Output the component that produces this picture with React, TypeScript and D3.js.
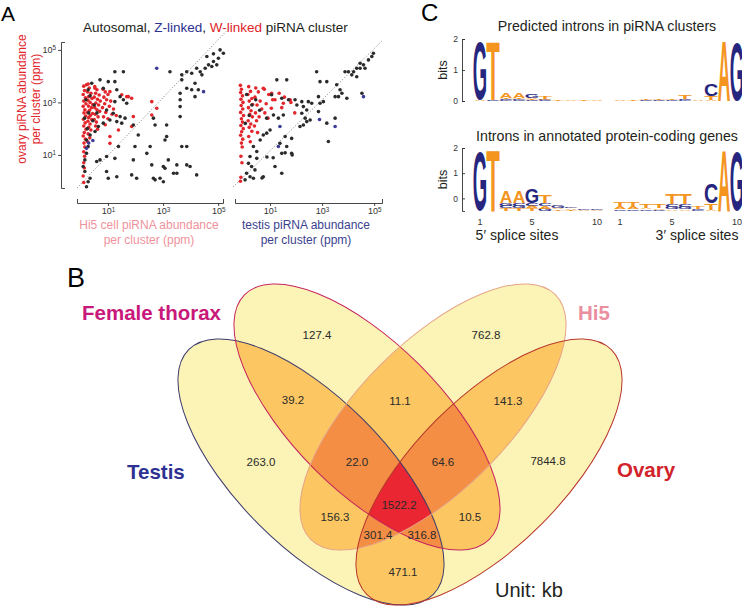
import React, { useEffect, useRef } from 'react';
import * as d3 from 'd3';

const FONT = "'Liberation Sans', Arial, Helvetica, sans-serif";
const WIDTH = 742;
const HEIGHT = 608;

// ---------- Panel A: log10 piRNA abundance per cluster (ppm), [x sample, ovary] ----------
const hi5Autosomal: [number, number][] = [
  [5.01, 4.68], [4.83, 4.56], [4.65, 4.43], [4.59, 4.75], [4.95, 4.43], [4.35, 4.17], [4.22, 4.3], [4.04, 4.11],
  [3.86, 4.17], [3.68, 4.05], [4.53, 4.3], [4.41, 4.05], [4.77, 4.37], [5.19, 4.87], [5.07, 5.0], [4.83, 4.85],
  [3.25, 4.17], [3.68, 3.86], [4.04, 3.48], [4.16, 3.22], [3.62, 3.35], [3.62, 3.1], [3.62, 2.84], [3.62, 2.46],
  [3.86, 3.54], [4.16, 3.73], [4.28, 3.48], [1.56, 4.17], [1.25, 4.17], [1.25, 3.79], [1.01, 3.79], [0.71, 3.86],
  [0.41, 3.73], [0.28, 3.48], [0.83, 3.54], [1.32, 3.48], [1.44, 3.22], [1.56, 3.1], [1.68, 2.97], [1.25, 3.03],
  [0.95, 2.71], [1.19, 2.59], [1.44, 2.46], [1.62, 2.4], [1.5, 2.21], [1.32, 2.27], [1.07, 2.33], [0.83, 2.21],
  [0.65, 2.08], [0.53, 1.89], [0.35, 1.76], [0.22, 1.57], [0.28, 1.32], [0.22, 1.06], [0.16, 0.81], [0.1, 0.56],
  [0.16, 0.37], [0.35, 0.11], [0.22, -0.21], [0.28, -0.02], [1.92, 2.14], [2.1, 1.76], [1.98, 1.32], [2.65, 2.4],
  [3.13, 2.14], [2.71, 2.14], [3.13, 1.7], [3.07, 1.57], [3.68, 1.32], [3.86, 1.32], [2.53, 1.32], [2.41, 1.06],
  [1.92, 0.81], [1.38, 1.32], [0.95, 0.94], [0.71, 0.81], [0.59, 0.75], [1.25, 0.87], [0.95, 0.37], [1.01, 0.11],
  [1.32, 0.17], [1.86, 0.24], [2.04, 0.11], [2.65, 0.11], [2.71, 0.05], [2.89, 0.11], [3.01, -0.02], [3.38, 0.3],
  [3.5, 0.3], [3.01, 0.56], [3.07, 0.49], [2.59, 0.62], [3.86, 0.62], [3.98, 0.56], [4.22, 0.24], [3.19, 0.81],
  [3.5, 0.62], [0.35, 3.25], [0.5, 2.9], [0.3, 2.6], [0.45, 2.3], [0.25, 2.0], [0.6, 2.6], [0.2, 3.1], [0.15, 2.4],
];
const hi5ZLinked: [number, number][] = [
  [2.77, 4.3], [4.47, 3.41], [0.3, 1.45], [0.22, 1.25], [0.45, 1.55],
];
const hi5WLinked: [number, number][] = [
  [0.12, 3.62], [0.15, 3.45], [0.1, 3.3], [0.18, 3.18], [0.12, 3.05], [0.2, 2.95], [0.1, 2.85], [0.16, 2.72],
  [0.13, 2.6], [0.19, 2.48], [0.11, 2.36], [0.17, 2.22], [0.12, 2.1], [0.2, 1.98], [0.14, 1.85], [0.1, 1.72],
  [0.18, 1.6], [0.13, 1.45], [0.16, 1.3], [0.12, 1.12], [0.15, 0.95], [0.12, 0.7], [0.14, 0.5], [0.1, 0.2],
  [0.12, -0.05], [0.28, 3.7], [0.32, 3.55], [0.26, 3.4], [0.38, 3.35], [0.3, 3.22], [0.42, 3.15], [0.27, 3.08],
  [0.35, 3.0], [0.45, 2.92], [0.29, 2.86], [0.4, 2.8], [0.33, 2.7], [0.26, 2.62], [0.44, 2.58], [0.36, 2.5],
  [0.3, 2.42], [0.41, 2.35], [0.27, 2.28], [0.35, 2.18], [0.3, 2.05], [0.38, 1.95], [0.28, 1.8], [0.34, 1.65],
  [0.26, 1.5], [0.52, 3.6], [0.6, 3.48], [0.55, 3.35], [0.68, 3.28], [0.5, 3.2], [0.62, 3.12], [0.72, 3.05],
  [0.56, 2.98], [0.66, 2.9], [0.52, 2.8], [0.6, 2.72], [0.7, 2.66], [0.54, 2.55], [0.64, 2.45], [0.5, 2.35],
  [0.58, 2.25], [0.55, 2.1], [0.62, 1.98], [0.82, 3.5], [0.9, 3.4], [1.0, 3.3], [0.85, 3.2], [0.95, 3.1],
  [1.1, 3.05], [0.88, 2.95], [1.05, 2.85], [0.8, 2.8], [1.2, 2.75], [0.92, 2.62], [1.15, 2.55], [0.84, 2.45],
  [1.0, 2.38], [1.3, 2.5], [0.9, 2.15], [1.68, 3.22], [1.86, 3.16], [2.59, 3.03], [2.77, 2.78], [2.59, 2.52],
  [1.92, 2.46], [1.86, 2.08], [1.38, 1.95], [1.07, 1.7], [1.07, 1.44], [0.22, 3.67], [0.53, 3.54], [1.07, 3.41],
  [1.5, 3.29], [1.74, 3.22],
];
const testisAutosomal: [number, number][] = [
  [4.97, 4.87], [4.91, 4.75], [4.78, 4.62], [4.59, 4.43], [4.46, 4.3], [4.33, 4.3], [4.21, 4.17], [4.14, 4.05],
  [4.01, 4.17], [3.88, 4.17], [4.46, 4.49], [4.65, 4.3], [4.33, 3.98], [2.79, 4.17], [2.92, 3.79], [3.18, 3.79],
  [3.56, 3.67], [3.69, 3.48], [3.76, 3.35], [3.5, 3.22], [3.95, 3.16], [4.53, 3.35], [3.63, 3.22], [2.86, 3.22],
  [3.05, 3.03], [2.92, 2.97], [2.6, 2.97], [2.86, 2.65], [3.18, 2.21], [3.5, 2.4], [3.24, 1.51], [1.26, 3.86],
  [1.64, 3.86], [1.06, 3.29], [1.45, 3.16], [1.71, 3.1], [1.96, 3.1], [2.22, 3.03], [2.47, 3.03], [2.03, 2.9],
  [2.28, 2.84], [2.41, 2.71], [2.22, 2.59], [2.35, 2.4], [2.41, 2.27], [2.54, 2.33], [2.28, 2.14], [2.15, 2.08],
  [1.51, 2.52], [1.32, 2.4], [1.13, 2.52], [0.87, 2.4], [1.0, 1.95], [0.87, 1.83], [1.58, 1.7], [1.83, 1.63],
  [1.38, 1.44], [1.64, 1.32], [1.45, 1.06], [1.83, 1.06], [0.74, 1.76], [0.62, 1.57], [0.36, 1.32], [0.49, 1.13],
  [0.23, 0.94], [0.49, 0.87], [0.17, 0.68], [0.29, 0.56], [0.42, 0.43], [0.1, 0.3], [0.23, 0.17], [0.36, 0.11],
  [0.74, 0.17], [1.19, 0.56], [1.45, 0.3], [0.04, 0.05], [0.69, 0.12], [0.88, 0.92], [1.12, 0.89], [1.58, 1.08],
  [1.85, 1.0], [0.1, 3.3], [0.3, 2.9], [0.2, 2.5], [0.45, 3.1], [0.05, 2.2], [0.6, 2.7],
];
const testisZLinked: [number, number][] = [
  [4.59, 3.22], [1.32, 1.32], [1.38, 2.08], [2.9, 2.35], [3.5, 2.08],
];
const testisWLinked: [number, number][] = [
  [-0.14, 3.65], [-0.1, 3.5], [-0.13, 3.38], [-0.06, 3.25], [-0.12, 3.12], [-0.04, 3.0], [-0.11, 2.88],
  [-0.05, 2.75], [-0.13, 2.62], [-0.02, 2.5], [-0.1, 2.38], [-0.06, 2.25], [-0.12, 2.12], [-0.03, 2.0],
  [-0.09, 1.88], [-0.13, 1.75], [-0.05, 1.6], [-0.1, 1.45], [-0.07, 1.3], [-0.12, 0.95], [-0.08, 0.7],
  [-0.12, 0.15], [-0.14, 0.0], [0.18, 3.6], [0.25, 3.42], [0.15, 3.3], [0.3, 3.15], [0.2, 3.05], [0.33, 2.92],
  [0.17, 2.8], [0.27, 2.68], [0.22, 2.55], [0.32, 2.45], [0.16, 2.3], [0.26, 2.18], [0.2, 2.05], [0.3, 1.9],
  [0.18, 1.7], [0.24, 1.5], [0.45, 3.55], [0.55, 3.4], [0.42, 3.2], [0.62, 3.05], [0.5, 2.9], [0.68, 2.75],
  [0.44, 2.6], [0.58, 2.45], [0.48, 2.3], [0.4, 2.1], [0.52, 1.85], [0.78, 3.5], [0.95, 3.3], [1.1, 3.1],
  [0.85, 2.95], [1.05, 2.78], [0.8, 2.6], [0.92, 2.4], [1.35, 3.35], [1.55, 3.2], [1.8, 3.0], [1.45, 2.8],
  [1.95, 2.6], [0.74, 3.54], [1.06, 3.35], [1.19, 3.1], [1.51, 2.97], [1.77, 3.1],
];
const abundanceTicks = [1e1, 1e3, 1e5];
// dotted reference lines, in ppm
const hi5Diagonal: [number, number][] = [[0.75, 0.55], [2.8e5, 7.6e5]];
const testisDiagonal: [number, number][] = [[0.38, 0.6], [2.2e5, 2.4e5]];

// ---------- Panel C: letter stacks per position, bottom to top, in bits ----------
type Stack = [string, number][];
const clusterFivePrime: Stack[] = [
  [['A', 0.02], ['G', 1.93]],
  [['C', 0.02], ['T', 1.93]],
  [['G', 0.03], ['C', 0.03], ['T', 0.04], ['A', 0.18]],
  [['C', 0.03], ['G', 0.03], ['T', 0.04], ['A', 0.17]],
  [['C', 0.03], ['T', 0.03], ['A', 0.05], ['G', 0.13]],
  [['C', 0.02], ['G', 0.02], ['A', 0.03], ['T', 0.06]],
  [['T', 0.02]], [['A', 0.02]], [['T', 0.02]], [['A', 0.02]],
];
const clusterThreePrime: Stack[] = [
  [['A', 0.02]], [['T', 0.02]],
  [['C', 0.02], ['T', 0.03]],
  [['C', 0.02], ['T', 0.03]],
  [['C', 0.02], ['T', 0.04]],
  [['G', 0.03], ['C', 0.04], ['T', 0.12]],
  [['A', 0.02]],
  [['A', 0.03], ['T', 0.12], ['C', 0.4]],
  [['A', 1.95]],
  [['G', 1.95]],
];
// annotated genes logo (read on its own axis, which starts at -0.5)
const geneFivePrime: Stack[] = [
  [['G', 2.45]],
  [['T', 2.45]],
  [['T', 0.1], ['C', 0.1], ['G', 0.12], ['A', 0.48]],
  [['T', 0.1], ['G', 0.1], ['C', 0.12], ['A', 0.48]],
  [['T', 0.1], ['A', 0.1], ['C', 0.12], ['G', 0.58]],
  [['G', 0.08], ['A', 0.1], ['C', 0.12], ['T', 0.32]],
  [['T', 0.06], ['A', 0.06], ['G', 0.08]],
  [['T', 0.05], ['A', 0.05], ['G', 0.06]],
  [['A', 0.05], ['G', 0.06]],
  [['A', 0.05], ['G', 0.05]],
];
const geneThreePrime: Stack[] = [
  [['C', 0.06], ['A', 0.08], ['T', 0.22]],
  [['C', 0.06], ['A', 0.08], ['T', 0.22]],
  [['C', 0.06], ['A', 0.06], ['T', 0.16]],
  [['C', 0.05], ['A', 0.06], ['T', 0.14]],
  [['A', 0.06], ['G', 0.08], ['C', 0.12], ['T', 0.42]],
  [['A', 0.06], ['G', 0.08], ['C', 0.12], ['T', 0.42]],
  [['G', 0.04], ['C', 0.05], ['T', 0.08]],
  [['A', 0.05], ['T', 0.25], ['C', 0.8]],
  [['A', 2.45]],
  [['G', 2.45]],
];
const bitTicks = [0, 1, 2];
const positionTicks = [1, 5, 10];

// ---------- Panel B: overlap sizes (kb) ----------
const vennSets = ['Testis', 'Female thorax', 'Hi5', 'Ovary'];
const vennRegionKeys = ['F', 'H', 'T', 'O', 'TF', 'HO', 'FH', 'TFH', 'FHO', 'TFHO', 'TH', 'FO', 'THO', 'TFO', 'TO'];
const vennRegionValues = [127.4, 762.8, 263.0, 7844.8, 39.2, 141.3, 11.1, 22.0, 64.6, 1522.2, 156.3, 10.5, 301.4, 316.8, 471.1];

// layout for panel B
const vennShapes = [
  { key: 'T', cx: 311, cy: 472, angle: 45, stroke: '#3e3c6c', label: '#2e3192', lx: 127, ly: 479 },
  { key: 'F', cx: 367, cy: 417, angle: 45, stroke: '#c6245f', label: '#c8197a', lx: 82, ly: 320 },
  { key: 'H', cx: 433, cy: 417, angle: -45, stroke: '#e6a487', label: '#ea8ea0', lx: 578, ly: 320 },
  { key: 'O', cx: 489, cy: 472, angle: -45, stroke: '#b8352c', label: '#d2232a', lx: 617, ly: 477 },
];
const vennLabelAt: Record<string, [number, number]> = {
  F: [317, 335], H: [486, 335], T: [261, 462], O: [548, 461], TF: [293, 400], HO: [508, 401], FH: [400, 401],
  TFH: [357, 462], FHO: [443, 462], TFHO: [399, 505], TH: [335, 517], FO: [470, 517], THO: [378, 535],
  TFO: [422, 535], TO: [403, 572],
};
const vennFill = ['#fbf4b6', '#fcc762', '#f38e44', '#ea2632'];

const LETTER_COLOR: Record<string, string> = { A: '#f3951f', T: '#f3951f', C: '#26267e', G: '#26267e' };
const INK: Record<string, { w: number; top: number; bottom: number }> = {
  A: { w: 0.72, top: 0.716, bottom: 0 },
  T: { w: 0.57, top: 0.716, bottom: 0 },
  C: { w: 0.64, top: 0.728, bottom: -0.012 },
  G: { w: 0.68, top: 0.728, bottom: -0.012 },
};

type Sel = d3.Selection<any, any, any, any>;

const powerLabels = (g: Sel) => {
  g.selectAll('.tick text').each(function (d: any) {
    const t = d3.select(this as SVGTextElement);
    t.text(null);
    t.append('tspan').text('10');
    t.append('tspan').attr('dy', '-0.45em').attr('font-size', '0.7em').text(Math.round(Math.log10(d)));
  });
};

const styleAxis = (g: Sel, size = 9) => {
  g.attr('font-family', FONT).attr('font-size', size);
  g.selectAll('path, line').attr('stroke', '#333').attr('stroke-width', 0.9);
  g.selectAll('text').attr('fill', '#333');
};

function drawScatter(
  svg: Sel,
  x: d3.ScaleLogarithmic<number, number>,
  y: d3.ScaleLogarithmic<number, number>,
  series: { data: [number, number][]; color: string }[],
  diagonal: [number, number][]
) {
  const g = svg.append('g');
  g.append('line')
    .attr('x1', x(diagonal[0][0]))
    .attr('y1', y(diagonal[0][1]))
    .attr('x2', x(diagonal[1][0]))
    .attr('y2', y(diagonal[1][1]))
    .attr('stroke', '#555')
    .attr('stroke-width', 0.8)
    .attr('stroke-dasharray', '1,2');
  series.forEach(({ data, color }) => {
    g.append('g')
      .selectAll('circle')
      .data(data)
      .join('circle')
      .attr('cx', (d) => x(10 ** d[0]))
      .attr('cy', (d) => y(10 ** d[1]))
      .attr('r', 1.8)
      .attr('fill', color);
  });
  g.append('g')
    .attr('transform', 'translate(0,203)')
    .call(d3.axisBottom(x).tickValues(abundanceTicks).tickSize(3).tickSizeOuter(-4).tickPadding(2))
    .call(powerLabels)
    .call(styleAxis);
}

function drawLetter(g: Sel, letter: string, cx: number, y0: number, y1: number, width: number) {
  const m = INK[letter];
  const sy = (y0 - y1) / ((m.top - m.bottom) * 100);
  const sx = width / (m.w * 100);
  const base = y0 + m.bottom * 100 * sy;
  g.append('text')
    .attr('transform', `translate(${cx},${base}) scale(${sx},${sy})`)
    .attr('text-anchor', 'middle')
    .attr('font-family', FONT)
    .attr('font-weight', 'bold')
    .attr('font-size', 100)
    .attr('fill', LETTER_COLOR[letter])
    .text(letter);
}

function drawLogo(g: Sel, stacks: Stack[], xPos: d3.ScaleLinear<number, number>, yBits: d3.ScaleLinear<number, number>) {
  stacks.forEach((stack, i) => {
    let acc = yBits.domain()[0];
    stack.forEach(([letter, h]) => {
      const y0 = yBits(acc);
      const y1 = yBits(acc + h);
      acc += h;
      if (y0 - y1 < 0.2) return;
      drawLetter(g, letter, xPos(i + 1), y0, y1, 12.6);
    });
  });
}

export default function App() {
  const svgRef = useRef<SVGSVGElement>(null);

  useEffect(() => {
    if (!svgRef.current) return;
    const svg = d3.select(svgRef.current);
    svg.selectAll('*').remove();
    svg.attr('font-family', FONT);

    // ---------- Panel A ----------
    svg.append('text').attr('x', 1).attr('y', 21).attr('font-size', 21).text('A');
    const title = svg.append('text').attr('x', 83).attr('y', 32).attr('font-size', 13.5).attr('fill', '#231f20');
    title.append('tspan').text('Autosomal, ');
    title.append('tspan').attr('fill', '#2e3192').text('Z-linked');
    title.append('tspan').text(', ');
    title.append('tspan').attr('fill', '#e0242a').text('W-linked');
    title.append('tspan').text(' piRNA cluster');

    const yA = d3.scaleLog().domain([0.55, 2e5]).range([188, 42]);
    const xHi5 = d3.scaleLog().domain([0.75, 1.5e5]).range([77, 223]);
    const xTestis = d3.scaleLog().domain([0.45, 2e5]).range([235, 382]);

    svg.append('g')
      .attr('transform', 'translate(61,0)')
      .call(d3.axisLeft(yA).tickValues(abundanceTicks).tickSize(3).tickSizeOuter(-4).tickPadding(2))
      .call(powerLabels)
      .call(styleAxis);

    drawScatter(svg, xHi5, yA, [
      { data: hi5WLinked, color: '#e2262c' },
      { data: hi5Autosomal, color: '#2b2b2b' },
      { data: hi5ZLinked, color: '#3a3c96' },
    ], hi5Diagonal);
    drawScatter(svg, xTestis, yA, [
      { data: testisWLinked, color: '#e2262c' },
      { data: testisAutosomal, color: '#2b2b2b' },
      { data: testisZLinked, color: '#3a3c96' },
    ], testisDiagonal);

    const yLab = svg.append('g').attr('fill', '#e2262c').attr('font-size', 12).attr('text-anchor', 'middle');
    yLab.append('text').attr('transform', 'translate(26,99) rotate(-90)').text('ovary piRNA abundance');
    yLab.append('text').attr('transform', 'translate(40,99) rotate(-90)').text('per cluster (ppm)');
    const xLab1 = svg.append('g').attr('fill', '#f0929c').attr('font-size', 12).attr('text-anchor', 'middle');
    xLab1.append('text').attr('x', 149).attr('y', 229).text('Hi5 cell piRNA abundance');
    xLab1.append('text').attr('x', 149).attr('y', 244).text('per cluster (ppm)');
    const xLab2 = svg.append('g').attr('fill', '#3b3f8f').attr('font-size', 12).attr('text-anchor', 'middle');
    xLab2.append('text').attr('x', 306).attr('y', 229).text('testis piRNA abundance');
    xLab2.append('text').attr('x', 306).attr('y', 244).text('per cluster (ppm)');

    // ---------- Panel C ----------
    svg.append('text').attr('x', 421).attr('y', 21).attr('font-size', 24).text('C');
    const five = d3.scaleLinear().domain([1, 10]).range([480, 597]);
    const three = d3.scaleLinear().domain([1, 10]).range([620, 737]);
    const bits1 = d3.scaleLinear().domain([0, 2]).range([101, 39]);
    const bits2 = d3.scaleLinear().domain([-0.5, 2]).range([211, 148]);

    const logos = svg.append('g');
    logos.append('text').attr('x', 607).attr('y', 31).attr('font-size', 14.2).attr('text-anchor', 'middle')
      .attr('fill', '#231f20').text('Predicted introns in piRNA clusters');
    logos.append('text').attr('x', 607).attr('y', 141).attr('font-size', 14.2).attr('text-anchor', 'middle')
      .attr('fill', '#231f20').text('Introns in annotated protein-coding genes');

    drawLogo(logos, clusterFivePrime, five, bits1);
    drawLogo(logos, clusterThreePrime, three, bits1);
    drawLogo(logos, geneFivePrime, five, bits2);
    drawLogo(logos, geneThreePrime, three, bits2);

    [bits1, bits2].forEach((s, i) => {
      logos.append('g')
        .attr('transform', 'translate(462,0)')
        .call(d3.axisLeft(s).tickValues(bitTicks).tickSize(-3).tickSizeOuter(-3).tickPadding(4).tickFormat(d3.format('d')))
        .call((g: Sel) => styleAxis(g, 8.5));
      const mid = (s.range()[0] + s.range()[1]) / 2;
      logos.append('text').attr('transform', `translate(447,${mid}) rotate(-90)`).attr('text-anchor', 'middle')
        .attr('font-size', 12.5).attr('fill', '#231f20').text('bits');
      if (i === 1) {
        [five, three].forEach((p) => {
          logos.append('g').attr('font-size', 9).attr('fill', '#333').attr('text-anchor', 'middle')
            .selectAll('text').data(positionTicks).join('text')
            .attr('x', (d) => p(d)).attr('y', 225).text((d) => d);
        });
      }
    });
    logos.append('text').attr('x', 517).attr('y', 240).attr('font-size', 14).attr('text-anchor', 'middle')
      .attr('fill', '#231f20').text('5\u2032 splice sites');
    logos.append('text').attr('x', 697).attr('y', 240).attr('font-size', 14).attr('text-anchor', 'middle')
      .attr('fill', '#231f20').text('3\u2032 splice sites');

    // ---------- Panel B ----------
    svg.append('text').attr('x', 67).attr('y', 287).attr('font-size', 27).text('B');
    const rx = 173;
    const ry = 74;
    const defs = svg.append('defs');
    vennShapes.forEach((e, i) => {
      defs.append('clipPath').attr('id', `venn-clip-${i}`)
        .append('ellipse')
        .attr('cx', e.cx).attr('cy', e.cy).attr('rx', rx).attr('ry', ry)
        .attr('transform', `rotate(${e.angle},${e.cx},${e.cy})`);
    });
    const venn = svg.append('g');
    const subsets: number[][] = [];
    for (let mask = 1; mask < 16; mask++) {
      subsets.push([0, 1, 2, 3].filter((k) => mask & (1 << k)));
    }
    subsets.sort((a, b) => a.length - b.length);
    subsets.forEach((set) => {
      let layer: Sel = venn;
      set.slice(0, -1).forEach((k) => {
        layer = layer.append('g').attr('clip-path', `url(#venn-clip-${k})`);
      });
      const e = vennShapes[set[set.length - 1]];
      layer.append('ellipse')
        .attr('cx', e.cx).attr('cy', e.cy).attr('rx', rx).attr('ry', ry)
        .attr('transform', `rotate(${e.angle},${e.cx},${e.cy})`)
        .attr('fill', vennFill[set.length - 1]);
    });
    vennShapes.forEach((e) => {
      venn.append('ellipse')
        .attr('cx', e.cx).attr('cy', e.cy).attr('rx', rx).attr('ry', ry)
        .attr('transform', `rotate(${e.angle},${e.cx},${e.cy})`)
        .attr('fill', 'none').attr('stroke', e.stroke).attr('stroke-width', 1);
    });
    venn.append('g').attr('font-size', 11.5).attr('fill', '#2a2a2a').attr('text-anchor', 'middle')
      .selectAll('text').data(vennRegionKeys).join('text')
      .attr('x', (k) => vennLabelAt[k][0])
      .attr('y', (k) => vennLabelAt[k][1] + 4)
      .text((_, i) => vennRegionValues[i].toFixed(1));
    vennShapes.forEach((e, i) => {
      venn.append('text').attr('x', e.lx).attr('y', e.ly).attr('font-size', 20.5).attr('font-weight', 'bold')
        .attr('fill', e.label).text(vennSets[i]);
    });
    venn.append('text').attr('x', 495).attr('y', 597).attr('font-size', 20).attr('fill', '#231f20').text('Unit: kb');
  }, []);

  return (
    <svg
      ref={svgRef}
      width={WIDTH}
      height={HEIGHT}
      style={{ position: 'absolute', left: 0, top: 0, background: '#fff' }}
    />
  );
}
